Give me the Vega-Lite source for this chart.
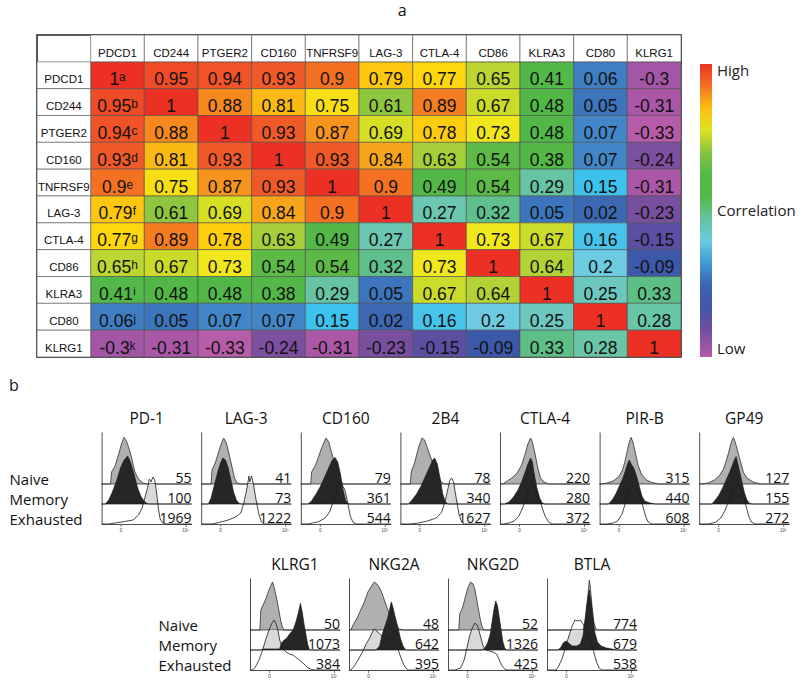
{
"$schema":"https://vega.github.io/schema/vega-lite/v6.json",
"padding":{"left":8,"top":2,"right":2,"bottom":2},
"title":{"text":"a","fontSize":16,"anchor":"middle","offset":15,"font":"Open Sans","fontWeight":"normal","color":"#111"},
"config":{"view":{"stroke":null},"axis":{"minExtent":0},"title":{"font":"Open Sans","fontSize":15.5,"fontWeight":"normal","color":"#111"},"text":{"font":"Open Sans"}},
"datasets":{
"corr":[
{"r":"PDCD1","s":"ᵃ","PDCD1":1,"CD244":0.95,"PTGER2":0.94,"CD160":0.93,"TNFRSF9":0.9,"LAG-3":0.79,"CTLA-4":0.77,"CD86":0.65,"KLRA3":0.41,"CD80":0.06,"KLRG1":-0.3},
{"r":"CD244","s":"ᵇ","PDCD1":0.95,"CD244":1,"PTGER2":0.88,"CD160":0.81,"TNFRSF9":0.75,"LAG-3":0.61,"CTLA-4":0.89,"CD86":0.67,"KLRA3":0.48,"CD80":0.05,"KLRG1":-0.31},
{"r":"PTGER2","s":"ᶜ","PDCD1":0.94,"CD244":0.88,"PTGER2":1,"CD160":0.93,"TNFRSF9":0.87,"LAG-3":0.69,"CTLA-4":0.78,"CD86":0.73,"KLRA3":0.48,"CD80":0.07,"KLRG1":-0.33},
{"r":"CD160","s":"ᵈ","PDCD1":0.93,"CD244":0.81,"PTGER2":0.93,"CD160":1,"TNFRSF9":0.93,"LAG-3":0.84,"CTLA-4":0.63,"CD86":0.54,"KLRA3":0.38,"CD80":0.07,"KLRG1":-0.24},
{"r":"TNFRSF9","s":"ᵉ","PDCD1":0.9,"CD244":0.75,"PTGER2":0.87,"CD160":0.93,"TNFRSF9":1,"LAG-3":0.9,"CTLA-4":0.49,"CD86":0.54,"KLRA3":0.29,"CD80":0.15,"KLRG1":-0.31},
{"r":"LAG-3","s":"ᶠ","PDCD1":0.79,"CD244":0.61,"PTGER2":0.69,"CD160":0.84,"TNFRSF9":0.9,"LAG-3":1,"CTLA-4":0.27,"CD86":0.32,"KLRA3":0.05,"CD80":0.02,"KLRG1":-0.23},
{"r":"CTLA-4","s":"ᵍ","PDCD1":0.77,"CD244":0.89,"PTGER2":0.78,"CD160":0.63,"TNFRSF9":0.49,"LAG-3":0.27,"CTLA-4":1,"CD86":0.73,"KLRA3":0.67,"CD80":0.16,"KLRG1":-0.15},
{"r":"CD86","s":"ʰ","PDCD1":0.65,"CD244":0.67,"PTGER2":0.73,"CD160":0.54,"TNFRSF9":0.54,"LAG-3":0.32,"CTLA-4":0.73,"CD86":1,"KLRA3":0.64,"CD80":0.2,"KLRG1":-0.09},
{"r":"KLRA3","s":"ⁱ","PDCD1":0.41,"CD244":0.48,"PTGER2":0.48,"CD160":0.38,"TNFRSF9":0.29,"LAG-3":0.05,"CTLA-4":0.67,"CD86":0.64,"KLRA3":1,"CD80":0.25,"KLRG1":0.33},
{"r":"CD80","s":"ʲ","PDCD1":0.06,"CD244":0.05,"PTGER2":0.07,"CD160":0.07,"TNFRSF9":0.15,"LAG-3":0.02,"CTLA-4":0.16,"CD86":0.2,"KLRA3":0.25,"CD80":1,"KLRG1":0.28},
{"r":"KLRG1","s":"ᵏ","PDCD1":-0.3,"CD244":-0.31,"PTGER2":-0.33,"CD160":-0.24,"TNFRSF9":-0.31,"LAG-3":-0.23,"CTLA-4":-0.15,"CD86":-0.09,"KLRA3":0.33,"CD80":0.28,"KLRG1":1}
],
"mk":[{"k":"PDCD1"},{"k":"CD244"},{"k":"PTGER2"},{"k":"CD160"},{"k":"TNFRSF9"},{"k":"LAG-3"},{"k":"CTLA-4"},{"k":"CD86"},{"k":"KLRA3"},{"k":"CD80"},{"k":"KLRG1"}],
"n":[
{"m":"PD-1","p":"N","n":55},{"m":"PD-1","p":"M","n":100},{"m":"PD-1","p":"E","n":1969},
{"m":"LAG-3","p":"N","n":41},{"m":"LAG-3","p":"M","n":73},{"m":"LAG-3","p":"E","n":1222},
{"m":"CD160","p":"N","n":79},{"m":"CD160","p":"M","n":361},{"m":"CD160","p":"E","n":544},
{"m":"2B4","p":"N","n":78},{"m":"2B4","p":"M","n":340},{"m":"2B4","p":"E","n":1627},
{"m":"CTLA-4","p":"N","n":220},{"m":"CTLA-4","p":"M","n":280},{"m":"CTLA-4","p":"E","n":372},
{"m":"PIR-B","p":"N","n":315},{"m":"PIR-B","p":"M","n":440},{"m":"PIR-B","p":"E","n":608},
{"m":"GP49","p":"N","n":127},{"m":"GP49","p":"M","n":155},{"m":"GP49","p":"E","n":272},
{"m":"KLRG1","p":"N","n":50},{"m":"KLRG1","p":"M","n":1073},{"m":"KLRG1","p":"E","n":384},
{"m":"NKG2A","p":"N","n":48},{"m":"NKG2A","p":"M","n":642},{"m":"NKG2A","p":"E","n":395},
{"m":"NKG2D","p":"N","n":52},{"m":"NKG2D","p":"M","n":1326},{"m":"NKG2D","p":"E","n":425},
{"m":"BTLA","p":"N","n":774},{"m":"BTLA","p":"M","n":679},{"m":"BTLA","p":"E","n":538}
],
"h":[
{"m":"PD-1","p":"N","x":0,"v":0},{"m":"PD-1","p":"N","x":10,"v":0},{"m":"PD-1","p":"N","x":11,"v":0.6},{"m":"PD-1","p":"N","x":15,"v":0.9},{"m":"PD-1","p":"N","x":19,"v":1.5},{"m":"PD-1","p":"N","x":22,"v":2.0},{"m":"PD-1","p":"N","x":25,"v":2.33},{"m":"PD-1","p":"N","x":28,"v":2.1},{"m":"PD-1","p":"N","x":31,"v":1.7},{"m":"PD-1","p":"N","x":34,"v":1.2},{"m":"PD-1","p":"N","x":37,"v":0.6},{"m":"PD-1","p":"N","x":41,"v":0.25},{"m":"PD-1","p":"N","x":46,"v":0.05},{"m":"PD-1","p":"N","x":50,"v":0},{"m":"PD-1","p":"N","x":100,"v":0},
{"m":"PD-1","p":"M","x":0,"v":0},{"m":"PD-1","p":"M","x":4,"v":0},{"m":"PD-1","p":"M","x":8,"v":0.2},{"m":"PD-1","p":"M","x":12,"v":0.6},{"m":"PD-1","p":"M","x":17,"v":1.2},{"m":"PD-1","p":"M","x":21,"v":1.8},{"m":"PD-1","p":"M","x":25,"v":2.2},{"m":"PD-1","p":"M","x":29,"v":2.4},{"m":"PD-1","p":"M","x":32,"v":2.1},{"m":"PD-1","p":"M","x":36,"v":1.5},{"m":"PD-1","p":"M","x":40,"v":0.8},{"m":"PD-1","p":"M","x":44,"v":0.35},{"m":"PD-1","p":"M","x":48,"v":0.1},{"m":"PD-1","p":"M","x":52,"v":0},{"m":"PD-1","p":"M","x":100,"v":0},
{"m":"PD-1","p":"E","x":0,"v":0},{"m":"PD-1","p":"E","x":8,"v":0},{"m":"PD-1","p":"E","x":15,"v":0.05},{"m":"PD-1","p":"E","x":25,"v":0.12},{"m":"PD-1","p":"E","x":35,"v":0.2},{"m":"PD-1","p":"E","x":41,"v":0.45},{"m":"PD-1","p":"E","x":45,"v":0.8},{"m":"PD-1","p":"E","x":48,"v":1.3},{"m":"PD-1","p":"E","x":51,"v":1.8},{"m":"PD-1","p":"E","x":53,"v":2.25},{"m":"PD-1","p":"E","x":55,"v":2.1},{"m":"PD-1","p":"E","x":57,"v":2.35},{"m":"PD-1","p":"E","x":59,"v":2.2},{"m":"PD-1","p":"E","x":61,"v":1.6},{"m":"PD-1","p":"E","x":63,"v":0.8},{"m":"PD-1","p":"E","x":65,"v":0.25},{"m":"PD-1","p":"E","x":68,"v":0.05},{"m":"PD-1","p":"E","x":72,"v":0},{"m":"PD-1","p":"E","x":100,"v":0},
{"m":"LAG-3","p":"N","x":0,"v":0},{"m":"LAG-3","p":"N","x":11,"v":0},{"m":"LAG-3","p":"N","x":12,"v":0.7},{"m":"LAG-3","p":"N","x":16,"v":1.1},{"m":"LAG-3","p":"N","x":20,"v":1.7},{"m":"LAG-3","p":"N","x":23,"v":2.1},{"m":"LAG-3","p":"N","x":25,"v":2.3},{"m":"LAG-3","p":"N","x":28,"v":2.05},{"m":"LAG-3","p":"N","x":31,"v":1.5},{"m":"LAG-3","p":"N","x":34,"v":0.9},{"m":"LAG-3","p":"N","x":37,"v":0.3},{"m":"LAG-3","p":"N","x":40,"v":0.05},{"m":"LAG-3","p":"N","x":43,"v":0},{"m":"LAG-3","p":"N","x":100,"v":0},
{"m":"LAG-3","p":"M","x":0,"v":0},{"m":"LAG-3","p":"M","x":8,"v":0},{"m":"LAG-3","p":"M","x":11,"v":0.3},{"m":"LAG-3","p":"M","x":15,"v":1.0},{"m":"LAG-3","p":"M","x":19,"v":1.7},{"m":"LAG-3","p":"M","x":22,"v":2.1},{"m":"LAG-3","p":"M","x":24,"v":2.3},{"m":"LAG-3","p":"M","x":27,"v":2.2},{"m":"LAG-3","p":"M","x":30,"v":1.8},{"m":"LAG-3","p":"M","x":33,"v":1.2},{"m":"LAG-3","p":"M","x":36,"v":0.6},{"m":"LAG-3","p":"M","x":39,"v":0.2},{"m":"LAG-3","p":"M","x":42,"v":0.03},{"m":"LAG-3","p":"M","x":45,"v":0},{"m":"LAG-3","p":"M","x":100,"v":0},
{"m":"LAG-3","p":"E","x":0,"v":0},{"m":"LAG-3","p":"E","x":12,"v":0},{"m":"LAG-3","p":"E","x":20,"v":0.08},{"m":"LAG-3","p":"E","x":30,"v":0.2},{"m":"LAG-3","p":"E","x":38,"v":0.35},{"m":"LAG-3","p":"E","x":44,"v":0.55},{"m":"LAG-3","p":"E","x":47,"v":1.0},{"m":"LAG-3","p":"E","x":50,"v":1.6},{"m":"LAG-3","p":"E","x":52,"v":2.1},{"m":"LAG-3","p":"E","x":53,"v":2.4},{"m":"LAG-3","p":"E","x":54,"v":2.1},{"m":"LAG-3","p":"E","x":56,"v":2.4},{"m":"LAG-3","p":"E","x":58,"v":2.0},{"m":"LAG-3","p":"E","x":61,"v":1.2},{"m":"LAG-3","p":"E","x":64,"v":0.5},{"m":"LAG-3","p":"E","x":67,"v":0.1},{"m":"LAG-3","p":"E","x":70,"v":0},{"m":"LAG-3","p":"E","x":100,"v":0},
{"m":"CD160","p":"N","x":0,"v":0},{"m":"CD160","p":"N","x":11,"v":0},{"m":"CD160","p":"N","x":12,"v":0.6},{"m":"CD160","p":"N","x":16,"v":0.9},{"m":"CD160","p":"N","x":20,"v":1.4},{"m":"CD160","p":"N","x":24,"v":1.9},{"m":"CD160","p":"N","x":28,"v":2.3},{"m":"CD160","p":"N","x":31,"v":2.1},{"m":"CD160","p":"N","x":34,"v":1.6},{"m":"CD160","p":"N","x":38,"v":1.0},{"m":"CD160","p":"N","x":41,"v":0.5},{"m":"CD160","p":"N","x":44,"v":0.15},{"m":"CD160","p":"N","x":47,"v":0},{"m":"CD160","p":"N","x":100,"v":0},
{"m":"CD160","p":"M","x":0,"v":0},{"m":"CD160","p":"M","x":8,"v":0},{"m":"CD160","p":"M","x":12,"v":0.15},{"m":"CD160","p":"M","x":17,"v":0.5},{"m":"CD160","p":"M","x":22,"v":0.9},{"m":"CD160","p":"M","x":27,"v":1.4},{"m":"CD160","p":"M","x":31,"v":1.8},{"m":"CD160","p":"M","x":35,"v":2.2},{"m":"CD160","p":"M","x":38,"v":2.33},{"m":"CD160","p":"M","x":41,"v":2.1},{"m":"CD160","p":"M","x":44,"v":1.5},{"m":"CD160","p":"M","x":47,"v":0.7},{"m":"CD160","p":"M","x":50,"v":0.15},{"m":"CD160","p":"M","x":53,"v":0},{"m":"CD160","p":"M","x":100,"v":0},
{"m":"CD160","p":"E","x":0,"v":0},{"m":"CD160","p":"E","x":8,"v":0},{"m":"CD160","p":"E","x":13,"v":0.05},{"m":"CD160","p":"E","x":20,"v":0.12},{"m":"CD160","p":"E","x":27,"v":0.3},{"m":"CD160","p":"E","x":32,"v":0.6},{"m":"CD160","p":"E","x":36,"v":1.1},{"m":"CD160","p":"E","x":40,"v":1.6},{"m":"CD160","p":"E","x":43,"v":2.05},{"m":"CD160","p":"E","x":46,"v":1.95},{"m":"CD160","p":"E","x":49,"v":1.7},{"m":"CD160","p":"E","x":52,"v":1.1},{"m":"CD160","p":"E","x":55,"v":0.4},{"m":"CD160","p":"E","x":58,"v":0.08},{"m":"CD160","p":"E","x":62,"v":0},{"m":"CD160","p":"E","x":100,"v":0},
{"m":"2B4","p":"N","x":0,"v":0},{"m":"2B4","p":"N","x":11,"v":0},{"m":"2B4","p":"N","x":12,"v":0.6},{"m":"2B4","p":"N","x":16,"v":1.1},{"m":"2B4","p":"N","x":20,"v":1.8},{"m":"2B4","p":"N","x":24,"v":2.3},{"m":"2B4","p":"N","x":27,"v":2.2},{"m":"2B4","p":"N","x":30,"v":1.8},{"m":"2B4","p":"N","x":34,"v":1.3},{"m":"2B4","p":"N","x":38,"v":0.8},{"m":"2B4","p":"N","x":42,"v":0.35},{"m":"2B4","p":"N","x":46,"v":0.08},{"m":"2B4","p":"N","x":49,"v":0},{"m":"2B4","p":"N","x":100,"v":0},
{"m":"2B4","p":"M","x":0,"v":0},{"m":"2B4","p":"M","x":9,"v":0},{"m":"2B4","p":"M","x":13,"v":0.2},{"m":"2B4","p":"M","x":18,"v":0.5},{"m":"2B4","p":"M","x":23,"v":0.9},{"m":"2B4","p":"M","x":28,"v":1.4},{"m":"2B4","p":"M","x":32,"v":1.8},{"m":"2B4","p":"M","x":36,"v":2.2},{"m":"2B4","p":"M","x":38,"v":2.3},{"m":"2B4","p":"M","x":41,"v":2.0},{"m":"2B4","p":"M","x":44,"v":1.3},{"m":"2B4","p":"M","x":47,"v":0.5},{"m":"2B4","p":"M","x":50,"v":0.1},{"m":"2B4","p":"M","x":53,"v":0},{"m":"2B4","p":"M","x":100,"v":0},
{"m":"2B4","p":"E","x":0,"v":0},{"m":"2B4","p":"E","x":10,"v":0},{"m":"2B4","p":"E","x":20,"v":0.05},{"m":"2B4","p":"E","x":30,"v":0.15},{"m":"2B4","p":"E","x":40,"v":0.3},{"m":"2B4","p":"E","x":46,"v":0.6},{"m":"2B4","p":"E","x":50,"v":1.2},{"m":"2B4","p":"E","x":53,"v":1.8},{"m":"2B4","p":"E","x":55,"v":2.2},{"m":"2B4","p":"E","x":57,"v":2.3},{"m":"2B4","p":"E","x":59,"v":2.1},{"m":"2B4","p":"E","x":62,"v":1.3},{"m":"2B4","p":"E","x":65,"v":0.5},{"m":"2B4","p":"E","x":68,"v":0.1},{"m":"2B4","p":"E","x":71,"v":0},{"m":"2B4","p":"E","x":100,"v":0},
{"m":"CTLA-4","p":"N","x":0,"v":0},{"m":"CTLA-4","p":"N","x":3,"v":0},{"m":"CTLA-4","p":"N","x":8,"v":0.15},{"m":"CTLA-4","p":"N","x":13,"v":0.3},{"m":"CTLA-4","p":"N","x":19,"v":0.55},{"m":"CTLA-4","p":"N","x":24,"v":0.95},{"m":"CTLA-4","p":"N","x":28,"v":1.5},{"m":"CTLA-4","p":"N","x":31,"v":2.0},{"m":"CTLA-4","p":"N","x":34,"v":2.3},{"m":"CTLA-4","p":"N","x":36,"v":2.1},{"m":"CTLA-4","p":"N","x":39,"v":1.5},{"m":"CTLA-4","p":"N","x":42,"v":0.8},{"m":"CTLA-4","p":"N","x":45,"v":0.3},{"m":"CTLA-4","p":"N","x":49,"v":0.1},{"m":"CTLA-4","p":"N","x":54,"v":0},{"m":"CTLA-4","p":"N","x":100,"v":0},
{"m":"CTLA-4","p":"M","x":0,"v":0},{"m":"CTLA-4","p":"M","x":5,"v":0},{"m":"CTLA-4","p":"M","x":10,"v":0.1},{"m":"CTLA-4","p":"M","x":15,"v":0.35},{"m":"CTLA-4","p":"M","x":20,"v":0.7},{"m":"CTLA-4","p":"M","x":24,"v":1.1},{"m":"CTLA-4","p":"M","x":28,"v":1.6},{"m":"CTLA-4","p":"M","x":31,"v":2.0},{"m":"CTLA-4","p":"M","x":34,"v":2.3},{"m":"CTLA-4","p":"M","x":36,"v":2.1},{"m":"CTLA-4","p":"M","x":38,"v":1.5},{"m":"CTLA-4","p":"M","x":41,"v":0.8},{"m":"CTLA-4","p":"M","x":44,"v":0.3},{"m":"CTLA-4","p":"M","x":47,"v":0.05},{"m":"CTLA-4","p":"M","x":50,"v":0},{"m":"CTLA-4","p":"M","x":100,"v":0},
{"m":"CTLA-4","p":"E","x":0,"v":0},{"m":"CTLA-4","p":"E","x":4,"v":0},{"m":"CTLA-4","p":"E","x":10,"v":0.05},{"m":"CTLA-4","p":"E","x":16,"v":0.15},{"m":"CTLA-4","p":"E","x":21,"v":0.4},{"m":"CTLA-4","p":"E","x":25,"v":0.8},{"m":"CTLA-4","p":"E","x":29,"v":1.3},{"m":"CTLA-4","p":"E","x":32,"v":1.8},{"m":"CTLA-4","p":"E","x":35,"v":2.05},{"m":"CTLA-4","p":"E","x":38,"v":1.9},{"m":"CTLA-4","p":"E","x":41,"v":1.6},{"m":"CTLA-4","p":"E","x":44,"v":1.2},{"m":"CTLA-4","p":"E","x":47,"v":0.8},{"m":"CTLA-4","p":"E","x":50,"v":0.4},{"m":"CTLA-4","p":"E","x":54,"v":0.1},{"m":"CTLA-4","p":"E","x":58,"v":0},{"m":"CTLA-4","p":"E","x":100,"v":0},
{"m":"PIR-B","p":"N","x":0,"v":0},{"m":"PIR-B","p":"N","x":2,"v":0},{"m":"PIR-B","p":"N","x":8,"v":0.05},{"m":"PIR-B","p":"N","x":15,"v":0.15},{"m":"PIR-B","p":"N","x":21,"v":0.35},{"m":"PIR-B","p":"N","x":25,"v":0.65},{"m":"PIR-B","p":"N","x":28,"v":1.1},{"m":"PIR-B","p":"N","x":31,"v":1.7},{"m":"PIR-B","p":"N","x":33,"v":2.1},{"m":"PIR-B","p":"N","x":35,"v":2.33},{"m":"PIR-B","p":"N","x":37,"v":2.1},{"m":"PIR-B","p":"N","x":40,"v":1.5},{"m":"PIR-B","p":"N","x":43,"v":0.9},{"m":"PIR-B","p":"N","x":47,"v":0.45},{"m":"PIR-B","p":"N","x":52,"v":0.2},{"m":"PIR-B","p":"N","x":58,"v":0.08},{"m":"PIR-B","p":"N","x":65,"v":0},{"m":"PIR-B","p":"N","x":100,"v":0},
{"m":"PIR-B","p":"M","x":0,"v":0},{"m":"PIR-B","p":"M","x":10,"v":0},{"m":"PIR-B","p":"M","x":14,"v":0.2},{"m":"PIR-B","p":"M","x":18,"v":0.5},{"m":"PIR-B","p":"M","x":22,"v":0.9},{"m":"PIR-B","p":"M","x":26,"v":1.3},{"m":"PIR-B","p":"M","x":29,"v":1.7},{"m":"PIR-B","p":"M","x":31,"v":2.0},{"m":"PIR-B","p":"M","x":33,"v":2.2},{"m":"PIR-B","p":"M","x":35,"v":2.0},{"m":"PIR-B","p":"M","x":38,"v":1.8},{"m":"PIR-B","p":"M","x":41,"v":1.4},{"m":"PIR-B","p":"M","x":44,"v":0.9},{"m":"PIR-B","p":"M","x":47,"v":0.4},{"m":"PIR-B","p":"M","x":50,"v":0.15},{"m":"PIR-B","p":"M","x":56,"v":0.05},{"m":"PIR-B","p":"M","x":62,"v":0},{"m":"PIR-B","p":"M","x":100,"v":0},
{"m":"PIR-B","p":"E","x":0,"v":0},{"m":"PIR-B","p":"E","x":8,"v":0},{"m":"PIR-B","p":"E","x":15,"v":0.05},{"m":"PIR-B","p":"E","x":20,"v":0.15},{"m":"PIR-B","p":"E","x":25,"v":0.5},{"m":"PIR-B","p":"E","x":29,"v":1.1},{"m":"PIR-B","p":"E","x":32,"v":1.6},{"m":"PIR-B","p":"E","x":35,"v":1.9},{"m":"PIR-B","p":"E","x":38,"v":1.85},{"m":"PIR-B","p":"E","x":42,"v":1.7},{"m":"PIR-B","p":"E","x":45,"v":1.4},{"m":"PIR-B","p":"E","x":48,"v":0.9},{"m":"PIR-B","p":"E","x":51,"v":0.4},{"m":"PIR-B","p":"E","x":54,"v":0.1},{"m":"PIR-B","p":"E","x":58,"v":0},{"m":"PIR-B","p":"E","x":100,"v":0},
{"m":"GP49","p":"N","x":0,"v":0},{"m":"GP49","p":"N","x":2,"v":0},{"m":"GP49","p":"N","x":10,"v":0.05},{"m":"GP49","p":"N","x":17,"v":0.2},{"m":"GP49","p":"N","x":23,"v":0.45},{"m":"GP49","p":"N","x":27,"v":0.75},{"m":"GP49","p":"N","x":31,"v":1.3},{"m":"GP49","p":"N","x":34,"v":1.8},{"m":"GP49","p":"N","x":36,"v":2.15},{"m":"GP49","p":"N","x":38,"v":2.33},{"m":"GP49","p":"N","x":40,"v":2.1},{"m":"GP49","p":"N","x":43,"v":1.6},{"m":"GP49","p":"N","x":46,"v":1.1},{"m":"GP49","p":"N","x":49,"v":0.6},{"m":"GP49","p":"N","x":53,"v":0.3},{"m":"GP49","p":"N","x":60,"v":0.1},{"m":"GP49","p":"N","x":68,"v":0},{"m":"GP49","p":"N","x":100,"v":0},
{"m":"GP49","p":"M","x":0,"v":0},{"m":"GP49","p":"M","x":14,"v":0},{"m":"GP49","p":"M","x":18,"v":0.2},{"m":"GP49","p":"M","x":22,"v":0.45},{"m":"GP49","p":"M","x":26,"v":0.8},{"m":"GP49","p":"M","x":30,"v":1.2},{"m":"GP49","p":"M","x":34,"v":1.6},{"m":"GP49","p":"M","x":37,"v":1.95},{"m":"GP49","p":"M","x":39,"v":2.2},{"m":"GP49","p":"M","x":41,"v":2.37},{"m":"GP49","p":"M","x":43,"v":2.0},{"m":"GP49","p":"M","x":45,"v":1.6},{"m":"GP49","p":"M","x":47,"v":1.2},{"m":"GP49","p":"M","x":50,"v":0.6},{"m":"GP49","p":"M","x":53,"v":0.2},{"m":"GP49","p":"M","x":56,"v":0.03},{"m":"GP49","p":"M","x":59,"v":0},{"m":"GP49","p":"M","x":100,"v":0},
{"m":"GP49","p":"E","x":0,"v":0},{"m":"GP49","p":"E","x":10,"v":0},{"m":"GP49","p":"E","x":18,"v":0.08},{"m":"GP49","p":"E","x":24,"v":0.3},{"m":"GP49","p":"E","x":29,"v":0.7},{"m":"GP49","p":"E","x":33,"v":1.2},{"m":"GP49","p":"E","x":37,"v":1.6},{"m":"GP49","p":"E","x":40,"v":1.85},{"m":"GP49","p":"E","x":43,"v":2.0},{"m":"GP49","p":"E","x":46,"v":1.8},{"m":"GP49","p":"E","x":49,"v":1.4},{"m":"GP49","p":"E","x":52,"v":0.9},{"m":"GP49","p":"E","x":55,"v":0.4},{"m":"GP49","p":"E","x":58,"v":0.1},{"m":"GP49","p":"E","x":62,"v":0},{"m":"GP49","p":"E","x":100,"v":0},
{"m":"KLRG1","p":"N","x":0,"v":0},{"m":"KLRG1","p":"N","x":11,"v":0},{"m":"KLRG1","p":"N","x":12,"v":1.0},{"m":"KLRG1","p":"N","x":15,"v":1.3},{"m":"KLRG1","p":"N","x":18,"v":1.6},{"m":"KLRG1","p":"N","x":21,"v":2.0},{"m":"KLRG1","p":"N","x":24,"v":2.3},{"m":"KLRG1","p":"N","x":25,"v":2.4},{"m":"KLRG1","p":"N","x":27,"v":2.1},{"m":"KLRG1","p":"N","x":30,"v":1.5},{"m":"KLRG1","p":"N","x":32,"v":1.0},{"m":"KLRG1","p":"N","x":34,"v":0.5},{"m":"KLRG1","p":"N","x":36,"v":0.15},{"m":"KLRG1","p":"N","x":38,"v":0},{"m":"KLRG1","p":"N","x":100,"v":0},
{"m":"KLRG1","p":"M","x":0,"v":0},{"m":"KLRG1","p":"M","x":12,"v":0},{"m":"KLRG1","p":"M","x":15,"v":0.05},{"m":"KLRG1","p":"M","x":33,"v":0.05},{"m":"KLRG1","p":"M","x":35,"v":0.35},{"m":"KLRG1","p":"M","x":38,"v":0.5},{"m":"KLRG1","p":"M","x":41,"v":0.6},{"m":"KLRG1","p":"M","x":44,"v":0.8},{"m":"KLRG1","p":"M","x":48,"v":1.0},{"m":"KLRG1","p":"M","x":51,"v":1.4},{"m":"KLRG1","p":"M","x":54,"v":1.9},{"m":"KLRG1","p":"M","x":56,"v":2.33},{"m":"KLRG1","p":"M","x":58,"v":1.9},{"m":"KLRG1","p":"M","x":60,"v":1.3},{"m":"KLRG1","p":"M","x":62,"v":0.8},{"m":"KLRG1","p":"M","x":64,"v":0.3},{"m":"KLRG1","p":"M","x":66,"v":0},{"m":"KLRG1","p":"M","x":100,"v":0},
{"m":"KLRG1","p":"E","x":0,"v":0},{"m":"KLRG1","p":"E","x":3,"v":0},{"m":"KLRG1","p":"E","x":6,"v":0.15},{"m":"KLRG1","p":"E","x":10,"v":0.5},{"m":"KLRG1","p":"E","x":14,"v":1.0},{"m":"KLRG1","p":"E","x":18,"v":1.6},{"m":"KLRG1","p":"E","x":22,"v":2.1},{"m":"KLRG1","p":"E","x":25,"v":2.4},{"m":"KLRG1","p":"E","x":27,"v":2.5},{"m":"KLRG1","p":"E","x":29,"v":2.3},{"m":"KLRG1","p":"E","x":31,"v":2.0},{"m":"KLRG1","p":"E","x":33,"v":1.5},{"m":"KLRG1","p":"E","x":36,"v":1.1},{"m":"KLRG1","p":"E","x":40,"v":0.9},{"m":"KLRG1","p":"E","x":44,"v":0.8},{"m":"KLRG1","p":"E","x":48,"v":0.75},{"m":"KLRG1","p":"E","x":52,"v":0.6},{"m":"KLRG1","p":"E","x":56,"v":0.45},{"m":"KLRG1","p":"E","x":60,"v":0.3},{"m":"KLRG1","p":"E","x":64,"v":0.12},{"m":"KLRG1","p":"E","x":68,"v":0.03},{"m":"KLRG1","p":"E","x":72,"v":0},{"m":"KLRG1","p":"E","x":100,"v":0},
{"m":"NKG2A","p":"N","x":0,"v":0},{"m":"NKG2A","p":"N","x":2,"v":0},{"m":"NKG2A","p":"N","x":5,"v":0.3},{"m":"NKG2A","p":"N","x":9,"v":0.6},{"m":"NKG2A","p":"N","x":13,"v":1.0},{"m":"NKG2A","p":"N","x":17,"v":1.4},{"m":"NKG2A","p":"N","x":21,"v":1.9},{"m":"NKG2A","p":"N","x":25,"v":2.2},{"m":"NKG2A","p":"N","x":28,"v":2.4},{"m":"NKG2A","p":"N","x":31,"v":2.3},{"m":"NKG2A","p":"N","x":34,"v":2.1},{"m":"NKG2A","p":"N","x":37,"v":1.8},{"m":"NKG2A","p":"N","x":40,"v":1.4},{"m":"NKG2A","p":"N","x":44,"v":0.9},{"m":"NKG2A","p":"N","x":48,"v":0.5},{"m":"NKG2A","p":"N","x":52,"v":0.2},{"m":"NKG2A","p":"N","x":56,"v":0.05},{"m":"NKG2A","p":"N","x":60,"v":0},{"m":"NKG2A","p":"N","x":100,"v":0},
{"m":"NKG2A","p":"M","x":0,"v":0},{"m":"NKG2A","p":"M","x":30,"v":0},{"m":"NKG2A","p":"M","x":34,"v":0.2},{"m":"NKG2A","p":"M","x":37,"v":0.8},{"m":"NKG2A","p":"M","x":40,"v":1.2},{"m":"NKG2A","p":"M","x":43,"v":1.6},{"m":"NKG2A","p":"M","x":45,"v":2.0},{"m":"NKG2A","p":"M","x":47,"v":2.4},{"m":"NKG2A","p":"M","x":49,"v":2.1},{"m":"NKG2A","p":"M","x":51,"v":1.7},{"m":"NKG2A","p":"M","x":54,"v":1.2},{"m":"NKG2A","p":"M","x":57,"v":0.6},{"m":"NKG2A","p":"M","x":60,"v":0.2},{"m":"NKG2A","p":"M","x":63,"v":0},{"m":"NKG2A","p":"M","x":100,"v":0},
{"m":"NKG2A","p":"E","x":0,"v":0},{"m":"NKG2A","p":"E","x":2,"v":0},{"m":"NKG2A","p":"E","x":6,"v":0.2},{"m":"NKG2A","p":"E","x":10,"v":0.5},{"m":"NKG2A","p":"E","x":15,"v":0.9},{"m":"NKG2A","p":"E","x":19,"v":1.3},{"m":"NKG2A","p":"E","x":23,"v":1.6},{"m":"NKG2A","p":"E","x":26,"v":1.9},{"m":"NKG2A","p":"E","x":28,"v":2.05},{"m":"NKG2A","p":"E","x":31,"v":1.95},{"m":"NKG2A","p":"E","x":34,"v":1.8},{"m":"NKG2A","p":"E","x":38,"v":1.65},{"m":"NKG2A","p":"E","x":42,"v":1.55},{"m":"NKG2A","p":"E","x":46,"v":1.5},{"m":"NKG2A","p":"E","x":50,"v":1.35},{"m":"NKG2A","p":"E","x":54,"v":1.1},{"m":"NKG2A","p":"E","x":57,"v":0.7},{"m":"NKG2A","p":"E","x":60,"v":0.35},{"m":"NKG2A","p":"E","x":63,"v":0.1},{"m":"NKG2A","p":"E","x":66,"v":0},{"m":"NKG2A","p":"E","x":100,"v":0},
{"m":"NKG2D","p":"N","x":0,"v":0},{"m":"NKG2D","p":"N","x":12,"v":0},{"m":"NKG2D","p":"N","x":13,"v":0.8},{"m":"NKG2D","p":"N","x":16,"v":1.1},{"m":"NKG2D","p":"N","x":19,"v":1.6},{"m":"NKG2D","p":"N","x":22,"v":2.1},{"m":"NKG2D","p":"N","x":25,"v":2.4},{"m":"NKG2D","p":"N","x":28,"v":2.3},{"m":"NKG2D","p":"N","x":30,"v":2.0},{"m":"NKG2D","p":"N","x":32,"v":1.5},{"m":"NKG2D","p":"N","x":34,"v":1.0},{"m":"NKG2D","p":"N","x":36,"v":0.5},{"m":"NKG2D","p":"N","x":38,"v":0.15},{"m":"NKG2D","p":"N","x":40,"v":0},{"m":"NKG2D","p":"N","x":100,"v":0},
{"m":"NKG2D","p":"M","x":0,"v":0},{"m":"NKG2D","p":"M","x":38,"v":0},{"m":"NKG2D","p":"M","x":41,"v":0.1},{"m":"NKG2D","p":"M","x":44,"v":0.35},{"m":"NKG2D","p":"M","x":47,"v":0.8},{"m":"NKG2D","p":"M","x":49,"v":1.4},{"m":"NKG2D","p":"M","x":51,"v":2.0},{"m":"NKG2D","p":"M","x":53,"v":2.45},{"m":"NKG2D","p":"M","x":55,"v":2.2},{"m":"NKG2D","p":"M","x":57,"v":1.6},{"m":"NKG2D","p":"M","x":59,"v":1.0},{"m":"NKG2D","p":"M","x":61,"v":0.4},{"m":"NKG2D","p":"M","x":63,"v":0.1},{"m":"NKG2D","p":"M","x":65,"v":0},{"m":"NKG2D","p":"M","x":100,"v":0},
{"m":"NKG2D","p":"E","x":0,"v":0},{"m":"NKG2D","p":"E","x":8,"v":0},{"m":"NKG2D","p":"E","x":14,"v":0.1},{"m":"NKG2D","p":"E","x":18,"v":0.5},{"m":"NKG2D","p":"E","x":21,"v":1.1},{"m":"NKG2D","p":"E","x":24,"v":1.7},{"m":"NKG2D","p":"E","x":27,"v":2.1},{"m":"NKG2D","p":"E","x":30,"v":2.35},{"m":"NKG2D","p":"E","x":33,"v":2.2},{"m":"NKG2D","p":"E","x":36,"v":1.7},{"m":"NKG2D","p":"E","x":39,"v":1.2},{"m":"NKG2D","p":"E","x":42,"v":1.0},{"m":"NKG2D","p":"E","x":46,"v":0.95},{"m":"NKG2D","p":"E","x":50,"v":0.9},{"m":"NKG2D","p":"E","x":54,"v":0.8},{"m":"NKG2D","p":"E","x":57,"v":0.5},{"m":"NKG2D","p":"E","x":60,"v":0.2},{"m":"NKG2D","p":"E","x":63,"v":0.05},{"m":"NKG2D","p":"E","x":66,"v":0},{"m":"NKG2D","p":"E","x":100,"v":0},
{"m":"BTLA","p":"N","x":0,"v":0},{"m":"BTLA","p":"N","x":40,"v":0},{"m":"BTLA","p":"N","x":42,"v":0.3},{"m":"BTLA","p":"N","x":44,"v":0.9},{"m":"BTLA","p":"N","x":46,"v":2.0},{"m":"BTLA","p":"N","x":47,"v":2.5},{"m":"BTLA","p":"N","x":48,"v":2.2},{"m":"BTLA","p":"N","x":50,"v":1.2},{"m":"BTLA","p":"N","x":52,"v":0.4},{"m":"BTLA","p":"N","x":54,"v":0.1},{"m":"BTLA","p":"N","x":56,"v":0},{"m":"BTLA","p":"N","x":100,"v":0},
{"m":"BTLA","p":"M","x":0,"v":0},{"m":"BTLA","p":"M","x":12,"v":0},{"m":"BTLA","p":"M","x":15,"v":0.1},{"m":"BTLA","p":"M","x":18,"v":0.35},{"m":"BTLA","p":"M","x":21,"v":0.45},{"m":"BTLA","p":"M","x":24,"v":0.35},{"m":"BTLA","p":"M","x":28,"v":0.2},{"m":"BTLA","p":"M","x":33,"v":0.2},{"m":"BTLA","p":"M","x":37,"v":0.3},{"m":"BTLA","p":"M","x":40,"v":0.7},{"m":"BTLA","p":"M","x":42,"v":1.4},{"m":"BTLA","p":"M","x":44,"v":2.2},{"m":"BTLA","p":"M","x":46,"v":2.8},{"m":"BTLA","p":"M","x":47,"v":3.0},{"m":"BTLA","p":"M","x":49,"v":2.4},{"m":"BTLA","p":"M","x":51,"v":1.6},{"m":"BTLA","p":"M","x":53,"v":0.9},{"m":"BTLA","p":"M","x":56,"v":0.4},{"m":"BTLA","p":"M","x":60,"v":0.2},{"m":"BTLA","p":"M","x":66,"v":0.1},{"m":"BTLA","p":"M","x":72,"v":0.05},{"m":"BTLA","p":"M","x":78,"v":0},{"m":"BTLA","p":"M","x":100,"v":0},
{"m":"BTLA","p":"E","x":0,"v":0},{"m":"BTLA","p":"E","x":10,"v":0},{"m":"BTLA","p":"E","x":13,"v":0.2},{"m":"BTLA","p":"E","x":17,"v":0.6},{"m":"BTLA","p":"E","x":21,"v":1.2},{"m":"BTLA","p":"E","x":25,"v":1.8},{"m":"BTLA","p":"E","x":28,"v":2.2},{"m":"BTLA","p":"E","x":31,"v":2.5},{"m":"BTLA","p":"E","x":34,"v":2.45},{"m":"BTLA","p":"E","x":37,"v":2.5},{"m":"BTLA","p":"E","x":40,"v":2.3},{"m":"BTLA","p":"E","x":43,"v":2.0},{"m":"BTLA","p":"E","x":46,"v":1.7},{"m":"BTLA","p":"E","x":49,"v":1.3},{"m":"BTLA","p":"E","x":52,"v":0.9},{"m":"BTLA","p":"E","x":55,"v":0.4},{"m":"BTLA","p":"E","x":58,"v":0.1},{"m":"BTLA","p":"E","x":61,"v":0},{"m":"BTLA","p":"E","x":100,"v":0}
]
},
"concat":[
{
"width":644,"height":322,
"view":{"stroke":"#222","strokeWidth":1.5},
"layer":[
{"data":{"name":"corr"},
 "transform":[{"fold":["PDCD1","CD244","PTGER2","CD160","TNFRSF9","LAG-3","CTLA-4","CD86","KLRA3","CD80","KLRG1"],"as":["c","v"]},{"calculate":"toString(datum.v)+(datum.c=='PDCD1'?datum.s:'')","as":"lab"}],
 "layer":[
  {"mark":{"type":"rect","stroke":"#4d4d4d","strokeWidth":0.6},
   "encoding":{
    "x":{"field":"c","type":"nominal","scale":{"domain":[" ","PDCD1","CD244","PTGER2","CD160","TNFRSF9","LAG-3","CTLA-4","CD86","KLRA3","CD80","KLRG1"],"paddingInner":0,"paddingOuter":0},"axis":null},
    "y":{"field":"r","type":"nominal","scale":{"domain":[" ","PDCD1","CD244","PTGER2","CD160","TNFRSF9","LAG-3","CTLA-4","CD86","KLRA3","CD80","KLRG1"],"paddingInner":0,"paddingOuter":0},"axis":{"labels":false,"ticks":false,"domain":false,"grid":false,"title":null,"minExtent":28,"maxExtent":28}},
    "color":{"field":"v","type":"quantitative",
     "scale":{"domain":[-0.33,-0.31,-0.24,-0.15,-0.09,0.02,0.05,0.07,0.15,0.2,0.27,0.33,0.38,0.48,0.54,0.61,0.65,0.69,0.73,0.77,0.79,0.84,0.87,0.9,0.93,0.95,1],
      "range":["#b65ca9","#a957a6","#7c4f9f","#5b4fa2","#3c58a8","#3c68b2","#3c75bc","#4286c7","#3dc2ee","#6ccbe0","#6cc7b0","#5ebf86","#53b848","#51b848","#5eba47","#8fc63f","#bdd631","#d7df24","#f1e71d","#fed60d","#fdc60f","#f9a51b","#f7941d","#f37121","#f05a28","#ef4b26","#ec3124"],
      "interpolate":"rgb"},
     "legend":{"orient":"none","legendX":663,"legendY":29,"title":null,"direction":"vertical","gradientLength":293,"gradientThickness":12,"gradientStrokeWidth":0,"values":[-0.33,0.335,1],"labelExpr":"datum.value>=1?'High':datum.value<=-0.33?'Low':'Correlation'","labelFontSize":15,"labelFont":"Open Sans","labelColor":"#222","labelOffset":5,"padding":0,"labelOverlap":false}}}},
  {"mark":{"type":"text","font":"Liberation Sans","fontSize":17.5,"dy":5,"color":"#111"},
   "encoding":{"x":{"field":"c","type":"nominal"},"y":{"field":"r","type":"nominal"},"text":{"field":"lab","type":"nominal"}}}
 ]},
{"data":{"name":"mk"},
 "layer":[
  {"mark":{"type":"rect","fill":"white","stroke":"#4d4d4d","strokeWidth":0.6},"encoding":{"x":{"field":"k","type":"nominal"},"y":{"datum":" ","type":"nominal"}}},
  {"mark":{"type":"text","font":"Liberation Sans","fontSize":11.5,"dy":6,"color":"#111"},"encoding":{"x":{"field":"k","type":"nominal"},"y":{"datum":" ","type":"nominal"},"text":{"field":"k","type":"nominal"}}},
  {"mark":{"type":"rect","fill":"white","stroke":"#4d4d4d","strokeWidth":0.6},"encoding":{"x":{"datum":" ","type":"nominal"},"y":{"field":"k","type":"nominal"}}},
  {"mark":{"type":"text","font":"Liberation Sans","fontSize":11.5,"dy":5,"color":"#111"},"encoding":{"x":{"datum":" ","type":"nominal"},"y":{"field":"k","type":"nominal"},"text":{"field":"k","type":"nominal"}}}
 ]}
]
},
{
"title":{"text":"b","anchor":"start","fontSize":16,"offset":18},
"spacing":5.6,
"hconcat":[
{"width":56.4,"height":92,"data":{"values":[]},"mark":{"type":"rule"},"encoding":{"y":{"field":"y","type":"quantitative","title":null,"scale":{"domain":[0,4.6],"nice":false,"zero":false},"axis":{"values":[0,1,2],"labelExpr":"datum.value==2?'Naive':datum.value==1?'Memory':'Exhausted'","labelAlign":"left","labelBaseline":"alphabetic","labelPadding":28,"labelFontSize":15,"labelFont":"Open Sans","labelColor":"#111","ticks":false,"domain":false,"grid":false,"title":null,"labelOverlap":false}}}},
{"width":90,"height":92,"title":{"text":"PD-1","offset":5},"layer":[
{"data":{"name":"h"},"transform":[{"filter":"datum.m=='PD-1'&&datum.p=='N'"},{"calculate":"2+datum.v","as":"y"},{"calculate":"2","as":"b"}],"mark":{"type":"area","fill":"#b0b0b0","stroke":"#1a1a1a","strokeWidth":0.7},"encoding":{"x":{"field":"x","type":"quantitative","title":null,"scale":{"domain":[0,100],"nice":false,"zero":false},"axis":{"values":[21,52,74,93],"labelExpr":"datum.value==21?'0':datum.value==52?'10³':datum.value==74?'10⁴':'10⁵'","labelFontSize":4.5,"labelColor":"#444","tickSize":2.5,"tickColor":"#222","tickWidth":0.6,"domainColor":"#222","domainWidth":0.8,"labelPadding":1,"grid":false,"title":null,"minExtent":15}},"y":{"field":"y","type":"quantitative","title":null,"scale":{"domain":[0,4.6],"nice":false,"zero":false},"axis":{"domainColor":"#222","domainWidth":0.8,"ticks":false,"labels":false,"grid":false,"title":null}},"y2":{"field":"b"}}},
{"data":{"name":"h"},"transform":[{"filter":"datum.m=='PD-1'&&datum.p=='E'"},{"calculate":"clamp(datum.v,1,2)","as":"y"},{"calculate":"1","as":"b"}],"mark":{"type":"area","fill":"#d9d9d9"},"encoding":{"x":{"field":"x","type":"quantitative","title":null},"y":{"field":"y","type":"quantitative","title":null},"y2":{"field":"b"}}},
{"data":{"name":"h"},"transform":[{"filter":"datum.m=='PD-1'&&datum.p=='M'"},{"calculate":"1+datum.v","as":"y"},{"calculate":"1","as":"b"}],"mark":{"type":"area","fill":"#262626","stroke":"#1a1a1a","strokeWidth":0.7},"encoding":{"x":{"field":"x","type":"quantitative","title":null},"y":{"field":"y","type":"quantitative","title":null},"y2":{"field":"b"}}},
{"data":{"name":"h"},"transform":[{"filter":"datum.m=='PD-1'&&datum.p=='E'"},{"calculate":"datum.v","as":"y"}],"mark":{"type":"line","stroke":"#1a1a1a","strokeWidth":0.8},"encoding":{"x":{"field":"x","type":"quantitative","title":null},"y":{"field":"y","type":"quantitative","title":null}}},
{"data":{"name":"n"},"transform":[{"filter":"datum.m=='PD-1'"},{"calculate":"datum.p=='N'?2:datum.p=='M'?1:0","as":"y"}],"mark":{"type":"text","align":"right","baseline":"alphabetic","dy":-1,"fontSize":14,"color":"#111"},"encoding":{"x":{"datum":100,"type":"quantitative"},"y":{"field":"y","type":"quantitative","title":null},"text":{"field":"n","type":"nominal"}}}
]},
{"width":90,"height":92,"title":{"text":"LAG-3","offset":5},"layer":[
{"data":{"name":"h"},"transform":[{"filter":"datum.m=='LAG-3'&&datum.p=='N'"},{"calculate":"2+datum.v","as":"y"},{"calculate":"2","as":"b"}],"mark":{"type":"area","fill":"#b0b0b0","stroke":"#1a1a1a","strokeWidth":0.7},"encoding":{"x":{"field":"x","type":"quantitative","title":null,"scale":{"domain":[0,100],"nice":false,"zero":false},"axis":{"values":[21,52,74,93],"labelExpr":"datum.value==21?'0':datum.value==52?'10³':datum.value==74?'10⁴':'10⁵'","labelFontSize":4.5,"labelColor":"#444","tickSize":2.5,"tickColor":"#222","tickWidth":0.6,"domainColor":"#222","domainWidth":0.8,"labelPadding":1,"grid":false,"title":null,"minExtent":15}},"y":{"field":"y","type":"quantitative","title":null,"scale":{"domain":[0,4.6],"nice":false,"zero":false},"axis":{"domainColor":"#222","domainWidth":0.8,"ticks":false,"labels":false,"grid":false,"title":null}},"y2":{"field":"b"}}},
{"data":{"name":"h"},"transform":[{"filter":"datum.m=='LAG-3'&&datum.p=='E'"},{"calculate":"clamp(datum.v,1,2)","as":"y"},{"calculate":"1","as":"b"}],"mark":{"type":"area","fill":"#d9d9d9"},"encoding":{"x":{"field":"x","type":"quantitative","title":null},"y":{"field":"y","type":"quantitative","title":null},"y2":{"field":"b"}}},
{"data":{"name":"h"},"transform":[{"filter":"datum.m=='LAG-3'&&datum.p=='M'"},{"calculate":"1+datum.v","as":"y"},{"calculate":"1","as":"b"}],"mark":{"type":"area","fill":"#262626","stroke":"#1a1a1a","strokeWidth":0.7},"encoding":{"x":{"field":"x","type":"quantitative","title":null},"y":{"field":"y","type":"quantitative","title":null},"y2":{"field":"b"}}},
{"data":{"name":"h"},"transform":[{"filter":"datum.m=='LAG-3'&&datum.p=='E'"},{"calculate":"datum.v","as":"y"}],"mark":{"type":"line","stroke":"#1a1a1a","strokeWidth":0.8},"encoding":{"x":{"field":"x","type":"quantitative","title":null},"y":{"field":"y","type":"quantitative","title":null}}},
{"data":{"name":"n"},"transform":[{"filter":"datum.m=='LAG-3'"},{"calculate":"datum.p=='N'?2:datum.p=='M'?1:0","as":"y"}],"mark":{"type":"text","align":"right","baseline":"alphabetic","dy":-1,"fontSize":14,"color":"#111"},"encoding":{"x":{"datum":100,"type":"quantitative"},"y":{"field":"y","type":"quantitative","title":null},"text":{"field":"n","type":"nominal"}}}
]},
{"width":90,"height":92,"title":{"text":"CD160","offset":5},"layer":[
{"data":{"name":"h"},"transform":[{"filter":"datum.m=='CD160'&&datum.p=='N'"},{"calculate":"2+datum.v","as":"y"},{"calculate":"2","as":"b"}],"mark":{"type":"area","fill":"#b0b0b0","stroke":"#1a1a1a","strokeWidth":0.7},"encoding":{"x":{"field":"x","type":"quantitative","title":null,"scale":{"domain":[0,100],"nice":false,"zero":false},"axis":{"values":[21,52,74,93],"labelExpr":"datum.value==21?'0':datum.value==52?'10³':datum.value==74?'10⁴':'10⁵'","labelFontSize":4.5,"labelColor":"#444","tickSize":2.5,"tickColor":"#222","tickWidth":0.6,"domainColor":"#222","domainWidth":0.8,"labelPadding":1,"grid":false,"title":null,"minExtent":15}},"y":{"field":"y","type":"quantitative","title":null,"scale":{"domain":[0,4.6],"nice":false,"zero":false},"axis":{"domainColor":"#222","domainWidth":0.8,"ticks":false,"labels":false,"grid":false,"title":null}},"y2":{"field":"b"}}},
{"data":{"name":"h"},"transform":[{"filter":"datum.m=='CD160'&&datum.p=='E'"},{"calculate":"clamp(datum.v,1,2)","as":"y"},{"calculate":"1","as":"b"}],"mark":{"type":"area","fill":"#d9d9d9"},"encoding":{"x":{"field":"x","type":"quantitative","title":null},"y":{"field":"y","type":"quantitative","title":null},"y2":{"field":"b"}}},
{"data":{"name":"h"},"transform":[{"filter":"datum.m=='CD160'&&datum.p=='M'"},{"calculate":"1+datum.v","as":"y"},{"calculate":"1","as":"b"}],"mark":{"type":"area","fill":"#262626","stroke":"#1a1a1a","strokeWidth":0.7},"encoding":{"x":{"field":"x","type":"quantitative","title":null},"y":{"field":"y","type":"quantitative","title":null},"y2":{"field":"b"}}},
{"data":{"name":"h"},"transform":[{"filter":"datum.m=='CD160'&&datum.p=='E'"},{"calculate":"datum.v","as":"y"}],"mark":{"type":"line","stroke":"#1a1a1a","strokeWidth":0.8},"encoding":{"x":{"field":"x","type":"quantitative","title":null},"y":{"field":"y","type":"quantitative","title":null}}},
{"data":{"name":"n"},"transform":[{"filter":"datum.m=='CD160'"},{"calculate":"datum.p=='N'?2:datum.p=='M'?1:0","as":"y"}],"mark":{"type":"text","align":"right","baseline":"alphabetic","dy":-1,"fontSize":14,"color":"#111"},"encoding":{"x":{"datum":100,"type":"quantitative"},"y":{"field":"y","type":"quantitative","title":null},"text":{"field":"n","type":"nominal"}}}
]},
{"width":90,"height":92,"title":{"text":"2B4","offset":5},"layer":[
{"data":{"name":"h"},"transform":[{"filter":"datum.m=='2B4'&&datum.p=='N'"},{"calculate":"2+datum.v","as":"y"},{"calculate":"2","as":"b"}],"mark":{"type":"area","fill":"#b0b0b0","stroke":"#1a1a1a","strokeWidth":0.7},"encoding":{"x":{"field":"x","type":"quantitative","title":null,"scale":{"domain":[0,100],"nice":false,"zero":false},"axis":{"values":[21,52,74,93],"labelExpr":"datum.value==21?'0':datum.value==52?'10³':datum.value==74?'10⁴':'10⁵'","labelFontSize":4.5,"labelColor":"#444","tickSize":2.5,"tickColor":"#222","tickWidth":0.6,"domainColor":"#222","domainWidth":0.8,"labelPadding":1,"grid":false,"title":null,"minExtent":15}},"y":{"field":"y","type":"quantitative","title":null,"scale":{"domain":[0,4.6],"nice":false,"zero":false},"axis":{"domainColor":"#222","domainWidth":0.8,"ticks":false,"labels":false,"grid":false,"title":null}},"y2":{"field":"b"}}},
{"data":{"name":"h"},"transform":[{"filter":"datum.m=='2B4'&&datum.p=='E'"},{"calculate":"clamp(datum.v,1,2)","as":"y"},{"calculate":"1","as":"b"}],"mark":{"type":"area","fill":"#d9d9d9"},"encoding":{"x":{"field":"x","type":"quantitative","title":null},"y":{"field":"y","type":"quantitative","title":null},"y2":{"field":"b"}}},
{"data":{"name":"h"},"transform":[{"filter":"datum.m=='2B4'&&datum.p=='M'"},{"calculate":"1+datum.v","as":"y"},{"calculate":"1","as":"b"}],"mark":{"type":"area","fill":"#262626","stroke":"#1a1a1a","strokeWidth":0.7},"encoding":{"x":{"field":"x","type":"quantitative","title":null},"y":{"field":"y","type":"quantitative","title":null},"y2":{"field":"b"}}},
{"data":{"name":"h"},"transform":[{"filter":"datum.m=='2B4'&&datum.p=='E'"},{"calculate":"datum.v","as":"y"}],"mark":{"type":"line","stroke":"#1a1a1a","strokeWidth":0.8},"encoding":{"x":{"field":"x","type":"quantitative","title":null},"y":{"field":"y","type":"quantitative","title":null}}},
{"data":{"name":"n"},"transform":[{"filter":"datum.m=='2B4'"},{"calculate":"datum.p=='N'?2:datum.p=='M'?1:0","as":"y"}],"mark":{"type":"text","align":"right","baseline":"alphabetic","dy":-1,"fontSize":14,"color":"#111"},"encoding":{"x":{"datum":100,"type":"quantitative"},"y":{"field":"y","type":"quantitative","title":null},"text":{"field":"n","type":"nominal"}}}
]},
{"width":90,"height":92,"title":{"text":"CTLA-4","offset":5},"layer":[
{"data":{"name":"h"},"transform":[{"filter":"datum.m=='CTLA-4'&&datum.p=='N'"},{"calculate":"2+datum.v","as":"y"},{"calculate":"2","as":"b"}],"mark":{"type":"area","fill":"#b0b0b0","stroke":"#1a1a1a","strokeWidth":0.7},"encoding":{"x":{"field":"x","type":"quantitative","title":null,"scale":{"domain":[0,100],"nice":false,"zero":false},"axis":{"values":[21,52,74,93],"labelExpr":"datum.value==21?'0':datum.value==52?'10³':datum.value==74?'10⁴':'10⁵'","labelFontSize":4.5,"labelColor":"#444","tickSize":2.5,"tickColor":"#222","tickWidth":0.6,"domainColor":"#222","domainWidth":0.8,"labelPadding":1,"grid":false,"title":null,"minExtent":15}},"y":{"field":"y","type":"quantitative","title":null,"scale":{"domain":[0,4.6],"nice":false,"zero":false},"axis":{"domainColor":"#222","domainWidth":0.8,"ticks":false,"labels":false,"grid":false,"title":null}},"y2":{"field":"b"}}},
{"data":{"name":"h"},"transform":[{"filter":"datum.m=='CTLA-4'&&datum.p=='E'"},{"calculate":"clamp(datum.v,1,2)","as":"y"},{"calculate":"1","as":"b"}],"mark":{"type":"area","fill":"#d9d9d9"},"encoding":{"x":{"field":"x","type":"quantitative","title":null},"y":{"field":"y","type":"quantitative","title":null},"y2":{"field":"b"}}},
{"data":{"name":"h"},"transform":[{"filter":"datum.m=='CTLA-4'&&datum.p=='M'"},{"calculate":"1+datum.v","as":"y"},{"calculate":"1","as":"b"}],"mark":{"type":"area","fill":"#262626","stroke":"#1a1a1a","strokeWidth":0.7},"encoding":{"x":{"field":"x","type":"quantitative","title":null},"y":{"field":"y","type":"quantitative","title":null},"y2":{"field":"b"}}},
{"data":{"name":"h"},"transform":[{"filter":"datum.m=='CTLA-4'&&datum.p=='E'"},{"calculate":"datum.v","as":"y"}],"mark":{"type":"line","stroke":"#1a1a1a","strokeWidth":0.8},"encoding":{"x":{"field":"x","type":"quantitative","title":null},"y":{"field":"y","type":"quantitative","title":null}}},
{"data":{"name":"n"},"transform":[{"filter":"datum.m=='CTLA-4'"},{"calculate":"datum.p=='N'?2:datum.p=='M'?1:0","as":"y"}],"mark":{"type":"text","align":"right","baseline":"alphabetic","dy":-1,"fontSize":14,"color":"#111"},"encoding":{"x":{"datum":100,"type":"quantitative"},"y":{"field":"y","type":"quantitative","title":null},"text":{"field":"n","type":"nominal"}}}
]},
{"width":90,"height":92,"title":{"text":"PIR-B","offset":5},"layer":[
{"data":{"name":"h"},"transform":[{"filter":"datum.m=='PIR-B'&&datum.p=='N'"},{"calculate":"2+datum.v","as":"y"},{"calculate":"2","as":"b"}],"mark":{"type":"area","fill":"#b0b0b0","stroke":"#1a1a1a","strokeWidth":0.7},"encoding":{"x":{"field":"x","type":"quantitative","title":null,"scale":{"domain":[0,100],"nice":false,"zero":false},"axis":{"values":[21,52,74,93],"labelExpr":"datum.value==21?'0':datum.value==52?'10³':datum.value==74?'10⁴':'10⁵'","labelFontSize":4.5,"labelColor":"#444","tickSize":2.5,"tickColor":"#222","tickWidth":0.6,"domainColor":"#222","domainWidth":0.8,"labelPadding":1,"grid":false,"title":null,"minExtent":15}},"y":{"field":"y","type":"quantitative","title":null,"scale":{"domain":[0,4.6],"nice":false,"zero":false},"axis":{"domainColor":"#222","domainWidth":0.8,"ticks":false,"labels":false,"grid":false,"title":null}},"y2":{"field":"b"}}},
{"data":{"name":"h"},"transform":[{"filter":"datum.m=='PIR-B'&&datum.p=='E'"},{"calculate":"clamp(datum.v,1,2)","as":"y"},{"calculate":"1","as":"b"}],"mark":{"type":"area","fill":"#d9d9d9"},"encoding":{"x":{"field":"x","type":"quantitative","title":null},"y":{"field":"y","type":"quantitative","title":null},"y2":{"field":"b"}}},
{"data":{"name":"h"},"transform":[{"filter":"datum.m=='PIR-B'&&datum.p=='M'"},{"calculate":"1+datum.v","as":"y"},{"calculate":"1","as":"b"}],"mark":{"type":"area","fill":"#262626","stroke":"#1a1a1a","strokeWidth":0.7},"encoding":{"x":{"field":"x","type":"quantitative","title":null},"y":{"field":"y","type":"quantitative","title":null},"y2":{"field":"b"}}},
{"data":{"name":"h"},"transform":[{"filter":"datum.m=='PIR-B'&&datum.p=='E'"},{"calculate":"datum.v","as":"y"}],"mark":{"type":"line","stroke":"#1a1a1a","strokeWidth":0.8},"encoding":{"x":{"field":"x","type":"quantitative","title":null},"y":{"field":"y","type":"quantitative","title":null}}},
{"data":{"name":"n"},"transform":[{"filter":"datum.m=='PIR-B'"},{"calculate":"datum.p=='N'?2:datum.p=='M'?1:0","as":"y"}],"mark":{"type":"text","align":"right","baseline":"alphabetic","dy":-1,"fontSize":14,"color":"#111"},"encoding":{"x":{"datum":100,"type":"quantitative"},"y":{"field":"y","type":"quantitative","title":null},"text":{"field":"n","type":"nominal"}}}
]},
{"width":90,"height":92,"title":{"text":"GP49","offset":5},"layer":[
{"data":{"name":"h"},"transform":[{"filter":"datum.m=='GP49'&&datum.p=='N'"},{"calculate":"2+datum.v","as":"y"},{"calculate":"2","as":"b"}],"mark":{"type":"area","fill":"#b0b0b0","stroke":"#1a1a1a","strokeWidth":0.7},"encoding":{"x":{"field":"x","type":"quantitative","title":null,"scale":{"domain":[0,100],"nice":false,"zero":false},"axis":{"values":[21,52,74,93],"labelExpr":"datum.value==21?'0':datum.value==52?'10³':datum.value==74?'10⁴':'10⁵'","labelFontSize":4.5,"labelColor":"#444","tickSize":2.5,"tickColor":"#222","tickWidth":0.6,"domainColor":"#222","domainWidth":0.8,"labelPadding":1,"grid":false,"title":null,"minExtent":15}},"y":{"field":"y","type":"quantitative","title":null,"scale":{"domain":[0,4.6],"nice":false,"zero":false},"axis":{"domainColor":"#222","domainWidth":0.8,"ticks":false,"labels":false,"grid":false,"title":null}},"y2":{"field":"b"}}},
{"data":{"name":"h"},"transform":[{"filter":"datum.m=='GP49'&&datum.p=='E'"},{"calculate":"clamp(datum.v,1,2)","as":"y"},{"calculate":"1","as":"b"}],"mark":{"type":"area","fill":"#d9d9d9"},"encoding":{"x":{"field":"x","type":"quantitative","title":null},"y":{"field":"y","type":"quantitative","title":null},"y2":{"field":"b"}}},
{"data":{"name":"h"},"transform":[{"filter":"datum.m=='GP49'&&datum.p=='M'"},{"calculate":"1+datum.v","as":"y"},{"calculate":"1","as":"b"}],"mark":{"type":"area","fill":"#262626","stroke":"#1a1a1a","strokeWidth":0.7},"encoding":{"x":{"field":"x","type":"quantitative","title":null},"y":{"field":"y","type":"quantitative","title":null},"y2":{"field":"b"}}},
{"data":{"name":"h"},"transform":[{"filter":"datum.m=='GP49'&&datum.p=='E'"},{"calculate":"datum.v","as":"y"}],"mark":{"type":"line","stroke":"#1a1a1a","strokeWidth":0.8},"encoding":{"x":{"field":"x","type":"quantitative","title":null},"y":{"field":"y","type":"quantitative","title":null}}},
{"data":{"name":"n"},"transform":[{"filter":"datum.m=='GP49'"},{"calculate":"datum.p=='N'?2:datum.p=='M'?1:0","as":"y"}],"mark":{"type":"text","align":"right","baseline":"alphabetic","dy":-1,"fontSize":14,"color":"#111"},"encoding":{"x":{"datum":100,"type":"quantitative"},"y":{"field":"y","type":"quantitative","title":null},"text":{"field":"n","type":"nominal"}}}
]}
]
},
{
"spacing":5,
"hconcat":[
{"width":206,"height":92,"data":{"values":[]},"mark":{"type":"rule"},"encoding":{"y":{"field":"y","type":"quantitative","title":null,"scale":{"domain":[0,4.6],"nice":false,"zero":false},"axis":{"values":[0,1,2],"labelExpr":"datum.value==2?'Naive':datum.value==1?'Memory':'Exhausted'","labelAlign":"left","labelBaseline":"alphabetic","labelPadding":-121,"labelFontSize":15,"labelFont":"Open Sans","labelColor":"#111","ticks":false,"domain":false,"grid":false,"title":null,"labelOverlap":false}}}},
{"width":90,"height":92,"title":{"text":"KLRG1","offset":5},"layer":[
{"data":{"name":"h"},"transform":[{"filter":"datum.m=='KLRG1'&&datum.p=='N'"},{"calculate":"2+datum.v","as":"y"},{"calculate":"2","as":"b"}],"mark":{"type":"area","fill":"#b0b0b0","stroke":"#1a1a1a","strokeWidth":0.7},"encoding":{"x":{"field":"x","type":"quantitative","title":null,"scale":{"domain":[0,100],"nice":false,"zero":false},"axis":{"values":[21,52,74,93],"labelExpr":"datum.value==21?'0':datum.value==52?'10³':datum.value==74?'10⁴':'10⁵'","labelFontSize":4.5,"labelColor":"#444","tickSize":2.5,"tickColor":"#222","tickWidth":0.6,"domainColor":"#222","domainWidth":0.8,"labelPadding":1,"grid":false,"title":null}},"y":{"field":"y","type":"quantitative","title":null,"scale":{"domain":[0,4.6],"nice":false,"zero":false},"axis":{"domainColor":"#222","domainWidth":0.8,"ticks":false,"labels":false,"grid":false,"title":null}},"y2":{"field":"b"}}},
{"data":{"name":"h"},"transform":[{"filter":"datum.m=='KLRG1'&&datum.p=='E'"},{"calculate":"clamp(datum.v,1,2)","as":"y"},{"calculate":"1","as":"b"}],"mark":{"type":"area","fill":"#d9d9d9"},"encoding":{"x":{"field":"x","type":"quantitative","title":null},"y":{"field":"y","type":"quantitative","title":null},"y2":{"field":"b"}}},
{"data":{"name":"h"},"transform":[{"filter":"datum.m=='KLRG1'&&datum.p=='M'"},{"calculate":"1+datum.v","as":"y"},{"calculate":"1","as":"b"}],"mark":{"type":"area","fill":"#262626","stroke":"#1a1a1a","strokeWidth":0.7},"encoding":{"x":{"field":"x","type":"quantitative","title":null},"y":{"field":"y","type":"quantitative","title":null},"y2":{"field":"b"}}},
{"data":{"name":"h"},"transform":[{"filter":"datum.m=='KLRG1'&&datum.p=='E'"},{"calculate":"datum.v","as":"y"}],"mark":{"type":"line","stroke":"#1a1a1a","strokeWidth":0.8},"encoding":{"x":{"field":"x","type":"quantitative","title":null},"y":{"field":"y","type":"quantitative","title":null}}},
{"data":{"name":"n"},"transform":[{"filter":"datum.m=='KLRG1'"},{"calculate":"datum.p=='N'?2:datum.p=='M'?1:0","as":"y"}],"mark":{"type":"text","align":"right","baseline":"alphabetic","dy":-1,"fontSize":14,"color":"#111"},"encoding":{"x":{"datum":100,"type":"quantitative"},"y":{"field":"y","type":"quantitative","title":null},"text":{"field":"n","type":"nominal"}}}
]},
{"width":90,"height":92,"title":{"text":"NKG2A","offset":5},"layer":[
{"data":{"name":"h"},"transform":[{"filter":"datum.m=='NKG2A'&&datum.p=='N'"},{"calculate":"2+datum.v","as":"y"},{"calculate":"2","as":"b"}],"mark":{"type":"area","fill":"#b0b0b0","stroke":"#1a1a1a","strokeWidth":0.7},"encoding":{"x":{"field":"x","type":"quantitative","title":null,"scale":{"domain":[0,100],"nice":false,"zero":false},"axis":{"values":[21,52,74,93],"labelExpr":"datum.value==21?'0':datum.value==52?'10³':datum.value==74?'10⁴':'10⁵'","labelFontSize":4.5,"labelColor":"#444","tickSize":2.5,"tickColor":"#222","tickWidth":0.6,"domainColor":"#222","domainWidth":0.8,"labelPadding":1,"grid":false,"title":null}},"y":{"field":"y","type":"quantitative","title":null,"scale":{"domain":[0,4.6],"nice":false,"zero":false},"axis":{"domainColor":"#222","domainWidth":0.8,"ticks":false,"labels":false,"grid":false,"title":null}},"y2":{"field":"b"}}},
{"data":{"name":"h"},"transform":[{"filter":"datum.m=='NKG2A'&&datum.p=='E'"},{"calculate":"clamp(datum.v,1,2)","as":"y"},{"calculate":"1","as":"b"}],"mark":{"type":"area","fill":"#d9d9d9"},"encoding":{"x":{"field":"x","type":"quantitative","title":null},"y":{"field":"y","type":"quantitative","title":null},"y2":{"field":"b"}}},
{"data":{"name":"h"},"transform":[{"filter":"datum.m=='NKG2A'&&datum.p=='M'"},{"calculate":"1+datum.v","as":"y"},{"calculate":"1","as":"b"}],"mark":{"type":"area","fill":"#262626","stroke":"#1a1a1a","strokeWidth":0.7},"encoding":{"x":{"field":"x","type":"quantitative","title":null},"y":{"field":"y","type":"quantitative","title":null},"y2":{"field":"b"}}},
{"data":{"name":"h"},"transform":[{"filter":"datum.m=='NKG2A'&&datum.p=='E'"},{"calculate":"datum.v","as":"y"}],"mark":{"type":"line","stroke":"#1a1a1a","strokeWidth":0.8},"encoding":{"x":{"field":"x","type":"quantitative","title":null},"y":{"field":"y","type":"quantitative","title":null}}},
{"data":{"name":"n"},"transform":[{"filter":"datum.m=='NKG2A'"},{"calculate":"datum.p=='N'?2:datum.p=='M'?1:0","as":"y"}],"mark":{"type":"text","align":"right","baseline":"alphabetic","dy":-1,"fontSize":14,"color":"#111"},"encoding":{"x":{"datum":100,"type":"quantitative"},"y":{"field":"y","type":"quantitative","title":null},"text":{"field":"n","type":"nominal"}}}
]},
{"width":90,"height":92,"title":{"text":"NKG2D","offset":5},"layer":[
{"data":{"name":"h"},"transform":[{"filter":"datum.m=='NKG2D'&&datum.p=='N'"},{"calculate":"2+datum.v","as":"y"},{"calculate":"2","as":"b"}],"mark":{"type":"area","fill":"#b0b0b0","stroke":"#1a1a1a","strokeWidth":0.7},"encoding":{"x":{"field":"x","type":"quantitative","title":null,"scale":{"domain":[0,100],"nice":false,"zero":false},"axis":{"values":[21,52,74,93],"labelExpr":"datum.value==21?'0':datum.value==52?'10³':datum.value==74?'10⁴':'10⁵'","labelFontSize":4.5,"labelColor":"#444","tickSize":2.5,"tickColor":"#222","tickWidth":0.6,"domainColor":"#222","domainWidth":0.8,"labelPadding":1,"grid":false,"title":null}},"y":{"field":"y","type":"quantitative","title":null,"scale":{"domain":[0,4.6],"nice":false,"zero":false},"axis":{"domainColor":"#222","domainWidth":0.8,"ticks":false,"labels":false,"grid":false,"title":null}},"y2":{"field":"b"}}},
{"data":{"name":"h"},"transform":[{"filter":"datum.m=='NKG2D'&&datum.p=='E'"},{"calculate":"clamp(datum.v,1,2)","as":"y"},{"calculate":"1","as":"b"}],"mark":{"type":"area","fill":"#d9d9d9"},"encoding":{"x":{"field":"x","type":"quantitative","title":null},"y":{"field":"y","type":"quantitative","title":null},"y2":{"field":"b"}}},
{"data":{"name":"h"},"transform":[{"filter":"datum.m=='NKG2D'&&datum.p=='M'"},{"calculate":"1+datum.v","as":"y"},{"calculate":"1","as":"b"}],"mark":{"type":"area","fill":"#262626","stroke":"#1a1a1a","strokeWidth":0.7},"encoding":{"x":{"field":"x","type":"quantitative","title":null},"y":{"field":"y","type":"quantitative","title":null},"y2":{"field":"b"}}},
{"data":{"name":"h"},"transform":[{"filter":"datum.m=='NKG2D'&&datum.p=='E'"},{"calculate":"datum.v","as":"y"}],"mark":{"type":"line","stroke":"#1a1a1a","strokeWidth":0.8},"encoding":{"x":{"field":"x","type":"quantitative","title":null},"y":{"field":"y","type":"quantitative","title":null}}},
{"data":{"name":"n"},"transform":[{"filter":"datum.m=='NKG2D'"},{"calculate":"datum.p=='N'?2:datum.p=='M'?1:0","as":"y"}],"mark":{"type":"text","align":"right","baseline":"alphabetic","dy":-1,"fontSize":14,"color":"#111"},"encoding":{"x":{"datum":100,"type":"quantitative"},"y":{"field":"y","type":"quantitative","title":null},"text":{"field":"n","type":"nominal"}}}
]},
{"width":90,"height":92,"title":{"text":"BTLA","offset":5},"layer":[
{"data":{"name":"h"},"transform":[{"filter":"datum.m=='BTLA'&&datum.p=='N'"},{"calculate":"2+datum.v","as":"y"},{"calculate":"2","as":"b"}],"mark":{"type":"area","fill":"#b0b0b0","stroke":"#1a1a1a","strokeWidth":0.7},"encoding":{"x":{"field":"x","type":"quantitative","title":null,"scale":{"domain":[0,100],"nice":false,"zero":false},"axis":{"values":[21,52,74,93],"labelExpr":"datum.value==21?'0':datum.value==52?'10³':datum.value==74?'10⁴':'10⁵'","labelFontSize":4.5,"labelColor":"#444","tickSize":2.5,"tickColor":"#222","tickWidth":0.6,"domainColor":"#222","domainWidth":0.8,"labelPadding":1,"grid":false,"title":null}},"y":{"field":"y","type":"quantitative","title":null,"scale":{"domain":[0,4.6],"nice":false,"zero":false},"axis":{"domainColor":"#222","domainWidth":0.8,"ticks":false,"labels":false,"grid":false,"title":null}},"y2":{"field":"b"}}},
{"data":{"name":"h"},"transform":[{"filter":"datum.m=='BTLA'&&datum.p=='E'"},{"calculate":"clamp(datum.v,1,2)","as":"y"},{"calculate":"1","as":"b"}],"mark":{"type":"area","fill":"#d9d9d9"},"encoding":{"x":{"field":"x","type":"quantitative","title":null},"y":{"field":"y","type":"quantitative","title":null},"y2":{"field":"b"}}},
{"data":{"name":"h"},"transform":[{"filter":"datum.m=='BTLA'&&datum.p=='M'"},{"calculate":"1+datum.v","as":"y"},{"calculate":"1","as":"b"}],"mark":{"type":"area","fill":"#262626","stroke":"#1a1a1a","strokeWidth":0.7},"encoding":{"x":{"field":"x","type":"quantitative","title":null},"y":{"field":"y","type":"quantitative","title":null},"y2":{"field":"b"}}},
{"data":{"name":"h"},"transform":[{"filter":"datum.m=='BTLA'&&datum.p=='E'"},{"calculate":"datum.v","as":"y"}],"mark":{"type":"line","stroke":"#1a1a1a","strokeWidth":0.8},"encoding":{"x":{"field":"x","type":"quantitative","title":null},"y":{"field":"y","type":"quantitative","title":null}}},
{"data":{"name":"n"},"transform":[{"filter":"datum.m=='BTLA'"},{"calculate":"datum.p=='N'?2:datum.p=='M'?1:0","as":"y"}],"mark":{"type":"text","align":"right","baseline":"alphabetic","dy":-1,"fontSize":14,"color":"#111"},"encoding":{"x":{"datum":100,"type":"quantitative"},"y":{"field":"y","type":"quantitative","title":null},"text":{"field":"n","type":"nominal"}}}
]}
]
}
],
"columns":1,
"spacing":18
}
